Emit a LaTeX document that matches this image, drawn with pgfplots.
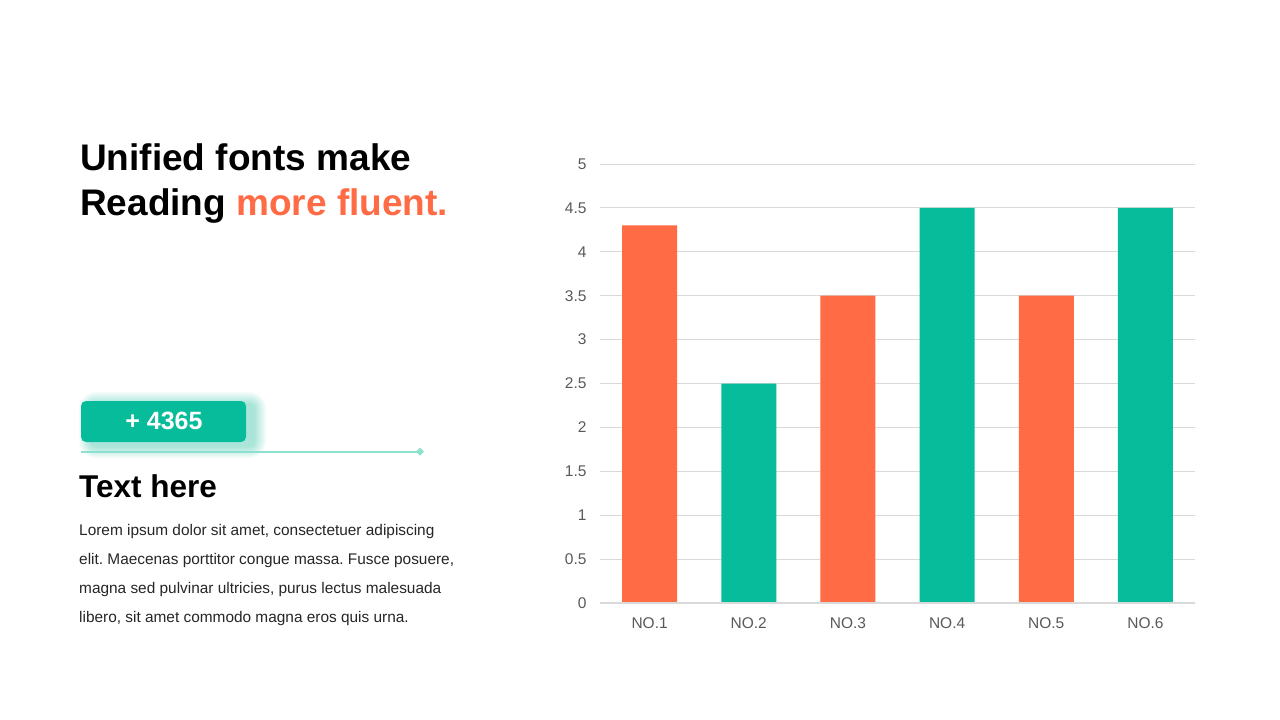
\documentclass[border=0pt]{standalone}
\usepackage{pgfplots}
\pgfplotsset{compat=1.18}
\usepackage{fontspec}
\setmainfont{Liberation Sans}
\frenchspacing
\definecolor{org}{HTML}{FF6B45}
\definecolor{grn}{HTML}{07BC9A}
\definecolor{lgrn}{HTML}{8EE0CF}
\definecolor{gridc}{HTML}{D9D9D9}
\definecolor{tickc}{HTML}{595959}
\definecolor{bodyc}{HTML}{262626}
\begin{document}
\begin{tikzpicture}[x=1pt,y=1pt]
\useasboundingbox[fill=white] (0,0) rectangle (1280,-720);
% title
\node[anchor=base west,inner sep=0pt,font=\fontsize{37}{40}\selectfont\bfseries] at (80,-170) {Unified fonts make};
\node[anchor=base west,inner sep=0pt,font=\fontsize{37}{40}\selectfont\bfseries] at (80,-215) {Reading \textcolor{org}{more fluent.}};
% badge glow
\foreach \r in {1,...,12}{
  \fill[grn,opacity=0.03,rounded corners={5pt+\r pt}] ({91-\r},{-404+\r}) rectangle ({254+\r},{-446-\r});
}
\fill[grn,rounded corners=5pt] (81,-401) rectangle (246,-442);
\node[text=white,font=\fontsize{25}{28}\selectfont\bfseries,inner sep=0pt] at (164,-421) {+ 4365};
\draw[lgrn,line width=2pt] (81,-451.5) -- (420,-451.5);
\fill[lgrn] (420,-447.5) -- (424,-451.5) -- (420,-455.5) -- (416,-451.5) -- cycle;
% Text here
\node[anchor=base west,inner sep=0pt,font=\fontsize{31.5}{34}\selectfont\bfseries] at (79,-497) {Text here};
\foreach \t [count=\i] in {{Lorem ipsum dolor sit amet, consectetuer adipiscing},{elit. Maecenas porttitor congue massa. Fusce posuere,},{magna sed pulvinar ultricies, purus lectus malesuada},{libero, sit amet commodo magna eros quis urna.}}{
  \node[anchor=base west,inner sep=0pt,text=bodyc,font=\fontsize{15.4}{18}\selectfont] at (79,{-535-29*(\i-1)}) {\t};
}
% chart
\begin{axis}[
  at={(600pt,-603pt)}, anchor=south west,
  scale only axis, width=595pt, height=439pt,
  xmin=-0.5, xmax=5.5, ymin=0, ymax=5,
  ytick={0,0.5,...,5},
  yticklabels={0,0.5,1,1.5,2,2.5,3,3.5,4,4.5,5},
  xtick={0,1,2,3,4,5},
  xticklabels={NO.1,NO.2,NO.3,NO.4,NO.5,NO.6},
  ymajorgrids, grid style={gridc,line width=1pt},
  axis line style={draw=none},
  major tick length=0pt,
  tick style={draw=none},
  ticklabel style={text=tickc,font=\fontsize{15.5}{17}\selectfont},
  /pgf/number format/assume math mode=true,
  yticklabel style={xshift=-10pt},
  xticklabel style={yshift=-11pt},
  clip=false,
]
\addplot[ybar,bar width=55pt,fill=org,draw=none] coordinates {(0,4.3) (2,3.5) (4,3.5)};
\addplot[ybar,bar width=55pt,fill=grn,draw=none] coordinates {(1,2.5) (3,4.5) (5,4.5)};
\draw[gridc,line width=1.5pt] (axis cs:-0.5,0) -- (axis cs:5.5,0);
\end{axis}
\end{tikzpicture}
\end{document}
